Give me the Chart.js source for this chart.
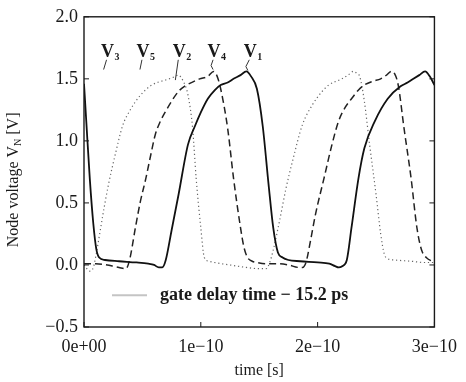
<!DOCTYPE html>
<html>
<head>
<meta charset="utf-8">
<script src="https://cdn.jsdelivr.net/npm/chart.js@4.4.1/dist/chart.umd.min.js"></script>
<style>
  body { margin: 0; background: #fff; }
  #wrap { width: 466px; height: 382px; position: relative; }
</style>
</head>
<body>
<div id="wrap"><canvas id="nodeChart"></canvas></div>
<script>
// time in ps, node voltage in V
const timeV1 = [0, 2, 5, 8, 10.5, 13, 18, 30, 45, 55, 60, 64, 67, 70, 75, 81, 89, 95, 100, 106, 112, 117, 123, 128, 134, 139, 143, 148, 153, 158, 162, 166, 170, 175, 185, 200, 210, 215, 218, 221, 225, 229, 235, 240, 249, 260, 271, 277, 282, 287, 292, 296, 300];
const voltV1 = [1.46, 1.15, 0.69, 0.33, 0.13, 0.06, 0.04, 0.03, 0.02, 0.01, 0.0, -0.02, -0.02, 0.04, 0.28, 0.57, 0.97, 1.12, 1.23, 1.34, 1.41, 1.45, 1.47, 1.50, 1.53, 1.56, 1.52, 1.42, 1.12, 0.65, 0.30, 0.10, 0.06, 0.04, 0.03, 0.02, 0.01, -0.01, -0.02, -0.01, 0.04, 0.30, 0.70, 0.94, 1.16, 1.34, 1.44, 1.47, 1.50, 1.53, 1.56, 1.52, 1.45];

const timeV4 = [0, 10, 20, 25, 30, 36, 39, 44, 48, 53, 57, 61, 65, 70, 75, 81, 86, 92, 99, 106, 111, 114, 117, 123, 128, 134, 137, 140, 144, 148, 156, 165, 175, 184, 187, 190, 194, 198, 206, 212, 218, 223, 229, 235, 240, 247, 254, 259, 263, 266, 269, 274, 280, 285, 289, 293, 298, 300];
const voltV4 = [0.01, 0.01, 0.0, -0.01, -0.02, -0.03, 0.04, 0.30, 0.50, 0.70, 0.88, 1.05, 1.15, 1.24, 1.32, 1.40, 1.44, 1.47, 1.50, 1.52, 1.56, 1.52, 1.42, 1.10, 0.70, 0.30, 0.14, 0.06, 0.03, 0.02, 0.01, 0.01, 0.0, -0.02, -0.02, 0.02, 0.20, 0.40, 0.72, 0.96, 1.16, 1.26, 1.34, 1.41, 1.45, 1.48, 1.50, 1.53, 1.56, 1.54, 1.45, 1.10, 0.70, 0.30, 0.12, 0.06, 0.03, 0.02];

const timeV2 = [0, 5, 8, 10.5, 13.4, 17, 21, 27, 33, 39, 48.5, 58, 69.5, 76, 80.7, 85, 89, 93, 96, 100, 103, 107, 111.5, 125, 139, 150, 156, 159, 162, 167.5, 173, 178.6, 187, 195.5, 204, 209.5, 220.7, 226, 230.5, 234, 236, 240, 244.5, 250, 254, 257, 260, 265.5, 280, 291, 300];
const voltV2 = [0.0, -0.05, -0.02, 0.09, 0.25, 0.45, 0.65, 0.90, 1.12, 1.24, 1.37, 1.45, 1.49, 1.51, 1.53, 1.48, 1.37, 1.10, 0.70, 0.30, 0.06, 0.03, 0.02, 0.0, -0.02, -0.03, -0.03, 0.02, 0.12, 0.36, 0.62, 0.84, 1.13, 1.29, 1.40, 1.45, 1.50, 1.53, 1.56, 1.54, 1.52, 1.32, 0.97, 0.57, 0.25, 0.09, 0.05, 0.04, 0.03, 0.02, 0.02];

const xTickValues = [0, 100, 200, 300];
const xTickLabels = ['0e+00', '1e\u221210', '2e\u221210', '3e\u221210'];
const yTickValues = [-0.5, 0, 0.5, 1.0, 1.5, 2.0];
const yTickLabels = ['\u22120.5', '0.0', '0.5', '1.0', '1.5', '2.0'];

const nodeNames = ['3', '5', '2', '4', '1'];
const legendText = 'gate delay time \u2212 15.2 ps';

function toPoints(ts, vs) {
    return ts.map((t, i) => ({ x: t, y: vs[i] }));
}

const serif = '"Liberation Serif", "Times New Roman", serif';
const ink = '#1a1a1a';

// node labels with little pointer lines, the legend line and the y title
const decorPlugin = {
    id: 'decor',
    afterDraw(chart) {
        const ctx = chart.ctx;
        const xs = chart.scales.x;
        const ys = chart.scales.y;
        const area = chart.chartArea;
        ctx.save();

        // frame
        ctx.strokeStyle = ink;
        ctx.lineWidth = 1.4;
        ctx.strokeRect(area.left, area.top, area.right - area.left, area.bottom - area.top);

        // inward ticks
        ctx.lineWidth = 1;
        yTickValues.forEach(v => {
            const y = ys.getPixelForValue(v);
            ctx.beginPath();
            ctx.moveTo(area.left, y); ctx.lineTo(area.left + 5, y);
            ctx.moveTo(area.right, y); ctx.lineTo(area.right - 5, y);
            ctx.stroke();
        });
        xTickValues.forEach(t => {
            const x = xs.getPixelForValue(t);
            ctx.beginPath();
            ctx.moveTo(x, area.bottom); ctx.lineTo(x, area.bottom - 5);
            ctx.stroke();
        });

        // node labels: label x (ps), pointer tip (ps, V), kinked pointer or not
        const marks = [
            { t: 19.3, tipT: 16.8, tipV: 1.575, kink: false },
            { t: 49.6, tipT: 47.9, tipV: 1.575, kink: false },
            { t: 80.7, tipT: 78.2, tipV: 1.49, kink: false },
            { t: 110.5, tipT: 110.5, tipV: 1.575, kink: true },
            { t: 141.5, tipT: 140.3, tipV: 1.567, kink: true }
        ];
        const topY = area.top + 43;
        marks.forEach((m, i) => {
            const x = xs.getPixelForValue(m.t);
            const tx = xs.getPixelForValue(m.tipT);
            const ty = ys.getPixelForValue(m.tipV);
            ctx.strokeStyle = '#333';
            ctx.lineWidth = 1;
            ctx.beginPath();
            ctx.moveTo(x, topY);
            if (m.kink) {
                ctx.lineTo(tx - 2, ty - 4);
            }
            ctx.lineTo(tx, ty);
            ctx.stroke();

            ctx.fillStyle = ink;
            ctx.font = 'bold 18px ' + serif;
            ctx.textAlign = 'center';
            ctx.textBaseline = 'alphabetic';
            ctx.fillText('V', x + 1, area.top + 40);
            ctx.font = 'bold 10px ' + serif;
            ctx.textAlign = 'left';
            ctx.fillText(nodeNames[i], x + 8, area.top + 43);
        });

        // legend
        const ly = ys.getPixelForValue(-0.245);
        ctx.strokeStyle = '#c4c4c4';
        ctx.lineWidth = 2;
        ctx.beginPath();
        ctx.moveTo(area.left + 28, ly);
        ctx.lineTo(area.left + 63, ly);
        ctx.stroke();
        ctx.fillStyle = ink;
        ctx.font = 'bold 18px ' + serif;
        ctx.textAlign = 'left';
        ctx.textBaseline = 'middle';
        ctx.fillText(legendText, area.left + 76, ly);

        // y axis title with subscript
        ctx.translate(14, (area.top + area.bottom) / 2 + 8);
        ctx.rotate(-Math.PI / 2);
        ctx.textBaseline = 'middle';
        ctx.font = '16px ' + serif;
        const a = 'Node voltage V';
        const b = ' [V]';
        ctx.font = '16px ' + serif;
        const wa = ctx.measureText(a).width;
        const wb = ctx.measureText(b).width;
        ctx.font = '10px ' + serif;
        const wn = ctx.measureText('N').width;
        let x0 = -(wa + wn + wb) / 2;
        ctx.font = '16px ' + serif;
        ctx.textAlign = 'left';
        ctx.fillText(a, x0, 0);
        ctx.font = '10px ' + serif;
        ctx.fillText('N', x0 + wa, 4);
        ctx.font = '16px ' + serif;
        ctx.fillText(b, x0 + wa + wn, 0);

        ctx.restore();
    }
};

document.addEventListener("DOMContentLoaded", function () {
    const ctxNode = document.getElementById('nodeChart');
    new Chart(ctxNode, {
        type: 'line',
        data: {
            datasets: [{
                label: 'V1',
                data: toPoints(timeV1, voltV1),
                borderColor: '#111',
                borderWidth: 1.8,
                pointRadius: 0,
                cubicInterpolationMode: 'monotone',
                fill: false
            },
                {
                    label: 'V4',
                    data: toPoints(timeV4, voltV4),
                    borderColor: '#222',
                    borderWidth: 1.5,
                    borderDash: [7, 4],
                    pointRadius: 0,
                    cubicInterpolationMode: 'monotone',
                    fill: false
                },
                {
                    label: 'V2',
                    data: toPoints(timeV2, voltV2),
                    borderColor: '#666',
                    borderWidth: 1.2,
                    borderDash: [1.2, 2.8],
                    pointRadius: 0,
                    cubicInterpolationMode: 'monotone',
                    fill: false
                }]
        },
        options: {
            responsive: true,
            maintainAspectRatio: false,
            animation: false,
            layout: { padding: { left: 0, top: 15, right: 25, bottom: 0 } },
            plugins: {
                legend: { display: false },
                tooltip: { enabled: false }
            },
            scales: {
                x: {
                    type: 'linear',
                    min: 0,
                    max: 300,
                    afterFit: scale => { scale.height = 55; },
                    afterBuildTicks: scale => { scale.ticks = xTickValues.map(v => ({ value: v })); },
                    grid: { display: false, drawTicks: false },
                    border: { display: false },
                    ticks: {
                        padding: 9,
                        maxRotation: 0,
                        color: ink,
                        font: { family: serif, size: 18 },
                        callback: v => xTickLabels[xTickValues.indexOf(v)]
                    },
                    title: {
                        display: true,
                        text: 'time [s]',
                        color: ink,
                        font: { family: serif, size: 16 },
                        padding: { top: 0, bottom: 2 }
                    }
                },
                y: {
                    min: -0.5,
                    max: 2.0,
                    afterFit: scale => { scale.width = 84; },
                    afterBuildTicks: scale => { scale.ticks = yTickValues.map(v => ({ value: v })); },
                    grid: { display: false, drawTicks: false },
                    border: { display: false },
                    ticks: {
                        padding: 6,
                        color: ink,
                        font: { family: serif, size: 18 },
                        callback: v => yTickLabels[yTickValues.indexOf(v)]
                    }
                }
            }
        },
        plugins: [decorPlugin]
    });
});
</script>
</body>
</html>
